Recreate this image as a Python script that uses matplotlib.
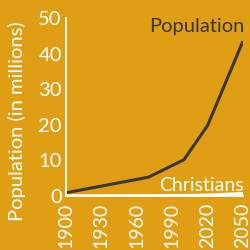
import matplotlib
matplotlib.use('Agg')
import matplotlib.pyplot as plt

years = [1900, 1970, 2000, 2020, 2050]
population = [0.9, 5.3, 10.2, 19.8, 43.5]
christians = [0.05, 0.1, 0.15, 0.25, 0.7]
xticks = [1900, 1930, 1960, 1990, 2020, 2050]
yticks = [0, 10, 20, 30, 40, 50]

BG = '#E09E14'
DARK = '#3a3632'
plt.rcParams['font.family'] = ['Lato', 'DejaVu Sans']

fig = plt.figure(figsize=(2.51, 2.5), dpi=100, facecolor=BG)
ax = fig.add_axes([0.263, 0.216, 0.705, 0.712], facecolor=BG)

ax.plot(years, population, color=DARK, lw=2.2, solid_capstyle='butt')
ax.plot(years, christians, color='white', lw=2.2, solid_capstyle='butt')

ax.set_xlim(1900, 2050); ax.set_ylim(0, 50)
ax.set_xticks(xticks); ax.set_yticks(yticks)
ax.set_xticklabels([str(v) for v in xticks], rotation=90, fontsize=14, color='white')
ax.set_yticklabels([str(v) for v in yticks], fontsize=14.5, color='white')
ax.tick_params(length=0)
ax.tick_params(axis='x', pad=5)
ax.tick_params(axis='y', pad=3)
for s in ['top', 'right']:
    ax.spines[s].set_visible(False)
for s in ['left', 'bottom']:
    ax.spines[s].set_color('white'); ax.spines[s].set_linewidth(1.3)

ax.set_ylabel('Population (in millions)', fontsize=14.5, color='white')
ax.yaxis.set_label_coords(-0.226, 0.42)
ax.text(2051, 47.5, 'Population', color=DARK, fontsize=14.5, ha='right', va='center')
ax.text(2051, 3, 'Christians', color='white', fontsize=14, ha='right', va='center')

fig.savefig('out.png', dpi=100, facecolor=BG)
